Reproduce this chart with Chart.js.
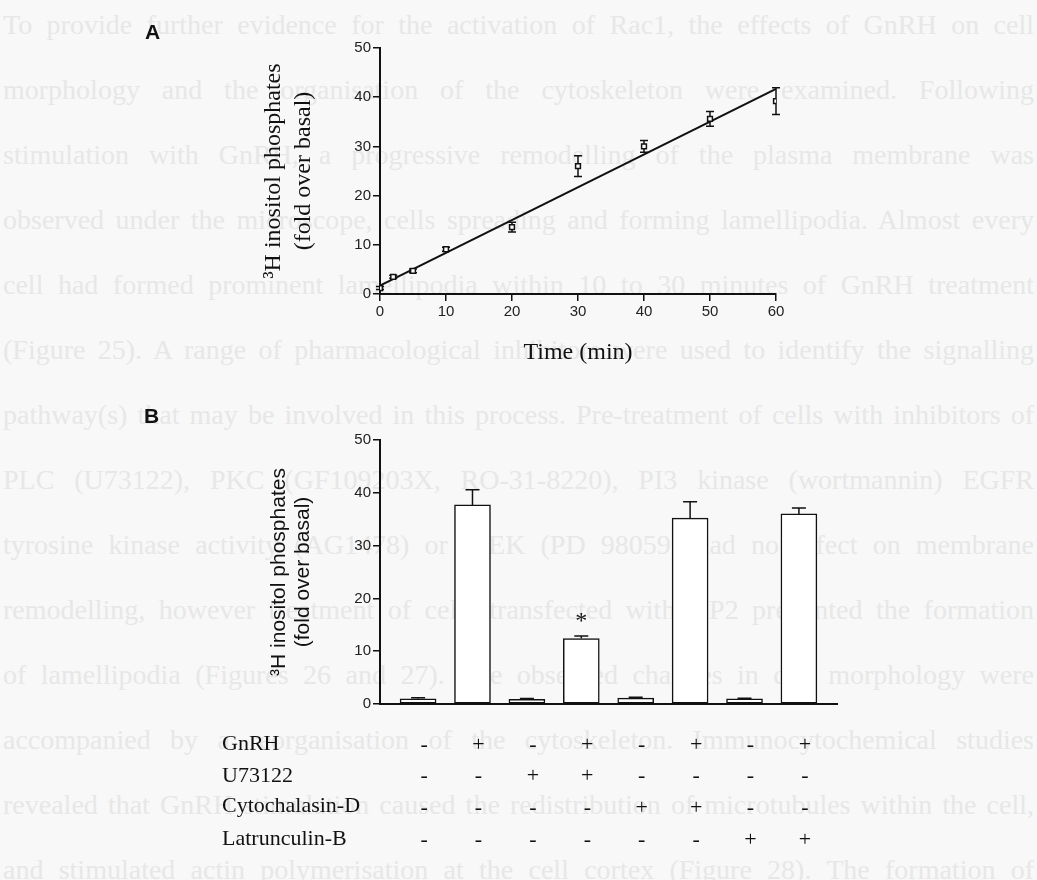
<!DOCTYPE html>
<html>
<head>
<meta charset="utf-8">
<script src="https://cdn.jsdelivr.net/npm/chart.js@4.4.1/dist/chart.umd.min.js"></script>
<style>
body { margin: 0; background: #f8f8f8; }
#page { position: relative; width: 1037px; height: 880px; overflow: hidden; }
.bleed { position: absolute; left: 3px; width: 1031px; height: 38px; overflow: hidden;
  font: 28px "Liberation Serif", serif; color: #e7e7e7; line-height: 38px;
  text-align: justify; text-align-last: justify; }
canvas { position: absolute; left: 0; }
.panel { position: absolute; font: bold 21px "Liberation Sans", Arial, sans-serif; color: #111; }
.row { position: absolute; left: 222px; font: 22px "Liberation Serif", serif; color: #111; line-height: 26px; }
</style>
</head>
<body>
<div id="page">
  <div id="bleed"></div>
  <canvas id="chartA" width="1037" height="400" style="top:0"></canvas>
  <canvas id="chartB" width="1037" height="480" style="top:400px"></canvas>
  <div class="panel" style="left:145px; top:20px">A</div>
  <div class="panel" style="left:144px; top:404px">B</div>
  <div class="row" style="top:730px">GnRH</div>
  <div class="row" style="top:762px">U73122</div>
  <div class="row" style="top:792px">Cytochalasin-D</div>
  <div class="row" style="top:825px">Latrunculin-B</div>
</div>
<script>
// faint text showing through from the other side of the page
var bleedLines = [
  "To provide further evidence for the activation of Rac1, the effects of GnRH on cell",
  "morphology and the organisation of the cytoskeleton were examined.  Following",
  "stimulation with GnRH, a progressive remodelling of the plasma membrane was",
  "observed under the microscope, cells spreading and forming lamellipodia. Almost every",
  "cell had formed prominent lamellipodia within 10 to 30 minutes of GnRH treatment",
  "(Figure 25). A range of pharmacological inhibitors were used to identify the signalling",
  "pathway(s) that may be involved in this process. Pre-treatment of cells with inhibitors of",
  "PLC (U73122), PKC (GF109203X, RO-31-8220), PI3 kinase (wortmannin) EGFR",
  "tyrosine kinase activity (AG1478) or MEK (PD 98059) had no effect on membrane",
  "remodelling, however treatment of cells transfected with JIP2 prevented the formation",
  "of lamellipodia (Figures 26 and 27). The observed changes in cell morphology were",
  "accompanied by a reorganisation of the cytoskeleton. Immunocytochemical studies",
  "revealed that GnRH stimulation caused the redistribution of microtubules within the cell,",
  "and stimulated actin polymerisation at the cell cortex (Figure 28). The formation of"
];

// Panel A - time course
var timeMin = [0, 2, 5, 10, 20, 30, 40, 50, 60];
var ipTime = [1.2, 3.5, 4.7, 9.1, 13.6, 26.0, 30.0, 35.6, 39.2];
var ipTimeErr = [0.3, 0.3, 0.4, 0.4, 1.0, 2.1, 1.2, 1.5, 2.7];
var fitX = [0, 60];
var fitY = [1.7, 41.7];
var xTicksA = [0, 10, 20, 30, 40, 50, 60];

// Panel B - inhibitors
var treatments = [0, 1, 2, 3, 4, 5, 6, 7];
var ipBars = [1.0, 37.7, 0.9, 12.4, 1.1, 35.2, 1.0, 36.0];
var ipBarsErr = [0.2, 2.9, 0.15, 0.5, 0.2, 3.1, 0.1, 1.1];
var gnrh     = ['-', '+', '-', '+', '-', '+', '-', '+'];
var u73122   = ['-', '-', '+', '+', '-', '-', '-', '-'];
var cytoD    = ['-', '-', '-', '-', '+', '+', '-', '-'];
var latB     = ['-', '-', '-', '-', '-', '-', '+', '+'];
var starBar = 3;
var starLevel = 15.6;

var yTitle = ['\u00b3H inositol phosphates', '(fold over basal)'];
var serif = '"Liberation Serif", "Times New Roman", serif';
var sans = '"Liberation Sans", Arial, sans-serif';
var ink = '#111';

var bleed = document.getElementById('bleed');
for (var i = 0; i < bleedLines.length; i++) {
  var d = document.createElement('div');
  d.className = 'bleed';
  d.style.top = (25 + i * 65 - 19) + 'px';
  d.textContent = bleedLines[i];
  bleed.appendChild(d);
}

// error bars drawn under the markers / bars
var errorBars = {
  id: 'errorBars',
  beforeDatasetsDraw: function(chart) {
    var ctx = chart.ctx;
    var yScale = chart.scales.y;
    chart.data.datasets.forEach(function(ds, di) {
      if (!ds.errors) return;
      var meta = chart.getDatasetMeta(di);
      meta.data.forEach(function(el, i) {
        var v = ds.data[i].y;
        var e = ds.errors[i];
        var top = yScale.getPixelForValue(v + e);
        var bottom = ds.upOnly ? yScale.getPixelForValue(v) : yScale.getPixelForValue(v - e);
        var cap = ds.capWidth;
        ctx.save();
        ctx.strokeStyle = ink;
        ctx.lineWidth = 1.5;
        ctx.beginPath();
        ctx.moveTo(el.x, top);
        ctx.lineTo(el.x, bottom);
        ctx.moveTo(el.x - cap, top);
        ctx.lineTo(el.x + cap, top);
        if (!ds.upOnly) {
          ctx.moveTo(el.x - cap, bottom);
          ctx.lineTo(el.x + cap, bottom);
        }
        ctx.stroke();
        ctx.restore();
      });
    });
  }
};

var starMark = {
  id: 'starMark',
  afterDatasetsDraw: function(chart) {
    if (!chart.options.plugins.starMark.show) return;
    var ctx = chart.ctx;
    ctx.save();
    ctx.fillStyle = ink;
    ctx.font = '24px ' + serif;
    ctx.textAlign = 'center';
    ctx.textBaseline = 'middle';
    ctx.fillText('*', chart.scales.x.getPixelForValue(starBar), chart.scales.y.getPixelForValue(starLevel));
    ctx.restore();
  }
};

Chart.register(errorBars, starMark);

new Chart(document.getElementById('chartA'), {
  type: 'scatter',
  data: {
    datasets: [{
      data: timeMin.map(function(t, i) { return {x: t, y: ipTime[i]}; }),
      errors: ipTimeErr,
      capWidth: 4,
      pointStyle: 'rect',
      pointRadius: 3.4,
      pointBorderWidth: 1.5,
      pointBackgroundColor: '#fff',
      pointBorderColor: ink,
      showLine: false
    }, {
      data: fitX.map(function(t, i) { return {x: t, y: fitY[i]}; }),
      showLine: true,
      borderColor: ink,
      borderWidth: 2,
      pointRadius: 0
    }]
  },
  options: {
    responsive: false,
    animation: false,
    devicePixelRatio: 1,
    layout: { padding: { left: 259, top: 48, right: 261, bottom: 32 } },
    plugins: { legend: { display: false }, tooltip: { enabled: false }, starMark: { show: false } },
    scales: {
      x: {
        type: 'linear', min: 0, max: 60,
        afterBuildTicks: function(s) { s.ticks = xTicksA.map(function(v) { return {value: v}; }); },
        ticks: { font: { family: sans, size: 15 }, color: '#222', padding: 2, maxRotation: 0 },
        grid: { drawOnChartArea: false, drawTicks: true, tickLength: 7, color: ink, lineWidth: 1.5 },
        border: { color: ink, width: 2 },
        title: { display: true, text: 'Time (min)', color: ink, padding: 0,
                 font: { family: serif, size: 24, lineHeight: 1.25 } },
        afterFit: function(s) { s.height = 74; }
      },
      y: {
        min: 0, max: 50,
        ticks: { stepSize: 10, font: { family: sans, size: 15 }, color: '#222', padding: 2 },
        grid: { drawOnChartArea: false, drawTicks: true, tickLength: 7, color: ink, lineWidth: 1.5 },
        border: { color: ink, width: 2 },
        title: { display: true, text: yTitle, color: ink, padding: 0,
                 font: { family: serif, size: 24, lineHeight: 1.25 } },
        afterFit: function(s) { s.width = 121; }
      }
    }
  }
});

new Chart(document.getElementById('chartB'), {
  type: 'bar',
  data: {
    datasets: [{
      data: treatments.map(function(t, i) { return {x: t, y: ipBars[i]}; }),
      errors: ipBarsErr,
      upOnly: true,
      capWidth: 7,
      backgroundColor: '#fff',
      borderColor: ink,
      borderWidth: 1.5,
      borderSkipped: false,
      barThickness: 36
    }]
  },
  options: {
    responsive: false,
    animation: false,
    devicePixelRatio: 1,
    layout: { padding: { left: 267, top: 40, right: 200, bottom: 0 } },
    plugins: { legend: { display: false }, tooltip: { enabled: false }, starMark: { show: true } },
    scales: {
      x: {
        type: 'linear', min: -0.7, max: 7.7, offset: false,
        afterBuildTicks: function(s) { s.ticks = treatments.map(function(v) { return {value: v}; }); },
        ticks: {
          autoSkip: false, maxRotation: 0, padding: 17, labelOffset: 6, color: ink,
          font: { family: serif, size: 22, lineHeight: 1.44 },
          callback: function(v) { return [gnrh[v], u73122[v], cytoD[v], latB[v]]; }
        },
        grid: { display: false },
        border: { color: ink, width: 2 },
        afterFit: function(s) { s.height = 176; }
      },
      y: {
        min: 0, max: 50,
        ticks: { stepSize: 10, font: { family: sans, size: 15 }, color: '#222', padding: 2 },
        grid: { drawOnChartArea: false, drawTicks: true, tickLength: 7, color: ink, lineWidth: 1.5 },
        border: { color: ink, width: 2 },
        title: { display: true, text: yTitle, color: ink, padding: 0,
                 font: { family: sans, size: 21, lineHeight: 1.15 } },
        afterFit: function(s) { s.width = 113; }
      }
    }
  }
});
</script>
</body>
</html>
